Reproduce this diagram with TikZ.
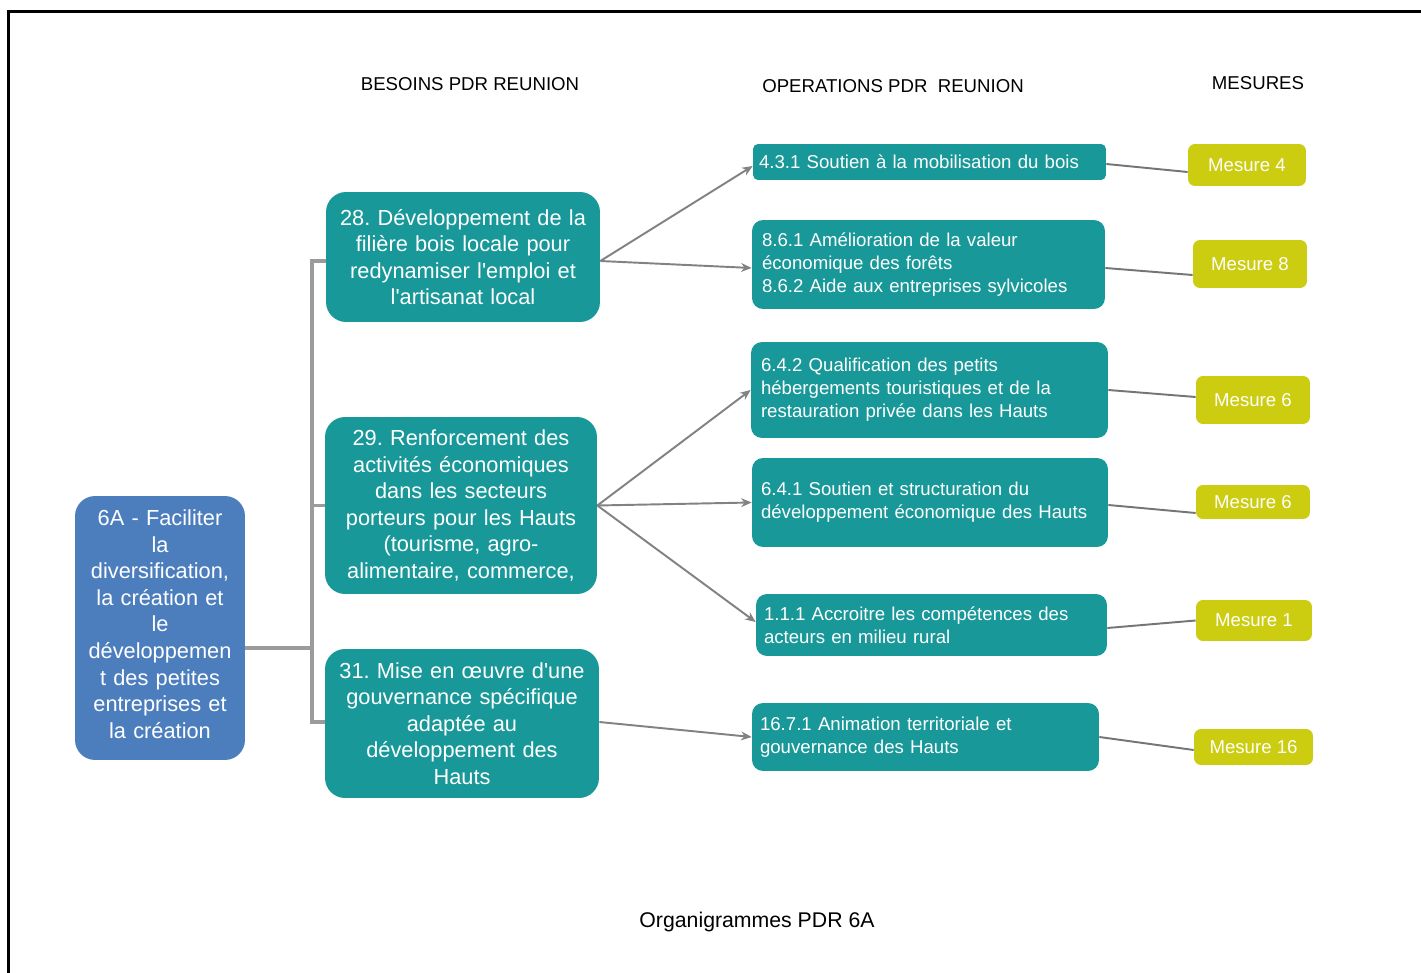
\documentclass[tikz,border=0pt]{standalone}
\usepackage{fontspec}
\setmainfont{Liberation Sans}[Ligatures=TeXOff]
\usetikzlibrary{arrows.meta,calc}
\frenchspacing
\definecolor{tealbox}{RGB}{24,152,152}
\definecolor{bluebox}{RGB}{76,126,190}
\definecolor{yelbox}{RGB}{204,204,16}
\definecolor{conngray}{RGB}{130,130,130}
\tikzset{
  bigbox/.style={fill=tealbox, text=white, rounded corners=0.4cm, inner sep=0pt, align=center,
    font=\fontsize{12.4}{15.1}\selectfont},
  bluenode/.style={bigbox, fill=bluebox},
  opbox/.style={fill=tealbox, text=white, rounded corners=0.22cm, inner sep=0pt, align=left,
    font=\fontsize{10.6}{13}\selectfont},
  mesbox/.style={fill=yelbox, text=white, rounded corners=0.14cm, inner sep=0pt, align=center,
    font=\fontsize{10.6}{13}\selectfont},
  header/.style={font=\fontsize{10.6}{13}\selectfont, text=black, inner sep=0pt},
  treeline/.style={draw=conngray!80!white, line width=1.9pt},
  arrowline/.style={draw=conngray, line width=1.1pt, -{Stealth[length=6pt,width=5pt]}},
  mesline/.style={draw=conngray!90!black, line width=1.1pt}
}
\begin{document}
\begin{tikzpicture}[x=0.02cm, y=-0.02cm]
\useasboundingbox (0,0) rectangle (1421,973);
\fill[white] (0,0) rectangle (1421,973);
\draw[line width=1.7pt, black] (8.5,973) -- (8.5,11.5) -- (1421,11.5);

% headers
\node[header] (h1) at (470,84) {BESOINS PDR REUNION};
\node[header] (h2) at (893,86) {OPERATIONS PDR~~REUNION};
\node[header] (h3) at (1258,83) {MESURES};
\node[font=\fontsize{12.1}{14}\selectfont, inner sep=0pt] (cap) at (757,922) {Organigrammes PDR 6A};

% left box
\node[bluenode, minimum width=3.4cm, minimum height=5.28cm, text width=3.4cm] (a6) at (160,628)
  {6A - Faciliter\\la\\diversification,\\la création et\\le\\développemen\\t des petites\\entreprises et\\la création\\[-10.6pt]\mbox{}};

% besoins
\node[bigbox, minimum width=5.48cm, minimum height=2.6cm, text width=5.4cm] (b28) at (463,257)
  {28. Développement de la\\filière bois locale pour\\redynamiser l'emploi et\\l'artisanat local};
\node[bigbox, minimum width=5.44cm, minimum height=3.54cm, text width=5.4cm] (b29) at (461,505.5)
  {29. Renforcement des\\activités économiques\\dans les secteurs\\porteurs pour les Hauts\\(tourisme, agro-\\alimentaire, commerce,};
\node[bigbox, minimum width=5.48cm, minimum height=2.98cm, text width=5.4cm] (b31) at (462,723.5)
  {31. Mise en œuvre d'une\\gouvernance spécifique\\adaptée au\\développement des\\Hauts};

% operations
\node[opbox, rounded corners=0.1cm, minimum width=7.06cm, minimum height=0.72cm, text width=6.82cm] (o431) at (929.5,162)
  {4.3.1 Soutien à la mobilisation du bois};
\node[opbox, minimum width=7.06cm, minimum height=1.78cm, text width=6.66cm] (o861) at (928.5,264.5)
  {8.6.1 Amélioration de la valeur\\économique des forêts\\8.6.2 Aide aux entreprises sylvicoles};
\node[opbox, minimum width=7.14cm, minimum height=1.92cm, text width=6.74cm] (o642) at (929.5,390)
  {6.4.2 Qualification des petits\\hébergements touristiques et de la\\restauration privée dans les Hauts};
\node[opbox, minimum width=7.12cm, minimum height=1.78cm, text width=6.76cm] (o641) at (930,502.5)
  {6.4.1 Soutien et structuration du\\développement économique des Hauts};
\node[opbox, minimum width=7.02cm, minimum height=1.24cm, text width=6.7cm] (o111) at (931.5,625)
  {1.1.1 Accroitre les compétences des\\acteurs en milieu rural};
\node[opbox, minimum width=6.94cm, minimum height=1.36cm, text width=6.62cm] (o1671) at (925.5,737)
  {16.7.1 Animation territoriale et\\gouvernance des Hauts};

% mesures
\node[mesbox, minimum width=2.36cm, minimum height=0.84cm] (m4) at (1247,165) {Mesure 4};
\node[mesbox, minimum width=2.28cm, minimum height=0.96cm] (m8) at (1250,264) {Mesure 8};
\node[mesbox, minimum width=2.28cm, minimum height=0.96cm] (m6a) at (1253,400) {Mesure 6};
\node[mesbox, minimum width=2.28cm, minimum height=0.68cm] (m6b) at (1253,502) {Mesure 6};
\node[mesbox, minimum width=2.32cm, minimum height=0.82cm] (m1) at (1254,620.5) {Mesure 1};
\node[mesbox, minimum width=2.38cm, minimum height=0.72cm] (m16) at (1253.5,747) {Mesure 16};

% tree connectors
\coordinate (j) at (312,648);
\draw[treeline] (a6.east |- j) -- (j);
\draw[treeline] (j) |- ($(b28.west)+(0,4)$);
\draw[treeline] (j) |- (b29.west);
\draw[treeline] (j) |- ($(b31.west)+(0,-1.5)$);

% arrows
\draw[arrowline] ($(b28.east)+(0,4)$) -- ($(o431.west)+(0,4)$);
\draw[arrowline] ($(b28.east)+(0,4)$) -- ($(o861.west)+(0,3.5)$);
\draw[arrowline] (b29.east) -- (o642.west);
\draw[arrowline] (b29.east) -- (o641.west);
\draw[arrowline] (b29.east) -- ($(o111.west)+(0,-3)$);
\draw[arrowline] ($(b31.east)+(0,-1.5)$) -- (o1671.west);

% mesure lines
\draw[mesline] ($(o431.east)+(0,2)$) -- ($(m4.west)+(0,7)$);
\draw[mesline] ($(o861.east)+(0,3.5)$) -- ($(m8.west)+(0,11)$);
\draw[mesline] (o642.east) -- ($(m6a.west)+(0,-3)$);
\draw[mesline] ($(o641.east)+(0,2.5)$) -- ($(m6b.west)+(0,11)$);
\draw[mesline] ($(o111.east)+(0,3)$) -- (m1.west);
\draw[mesline] (o1671.east) -- ($(m16.west)+(0,3)$);
\end{tikzpicture}
\end{document}
